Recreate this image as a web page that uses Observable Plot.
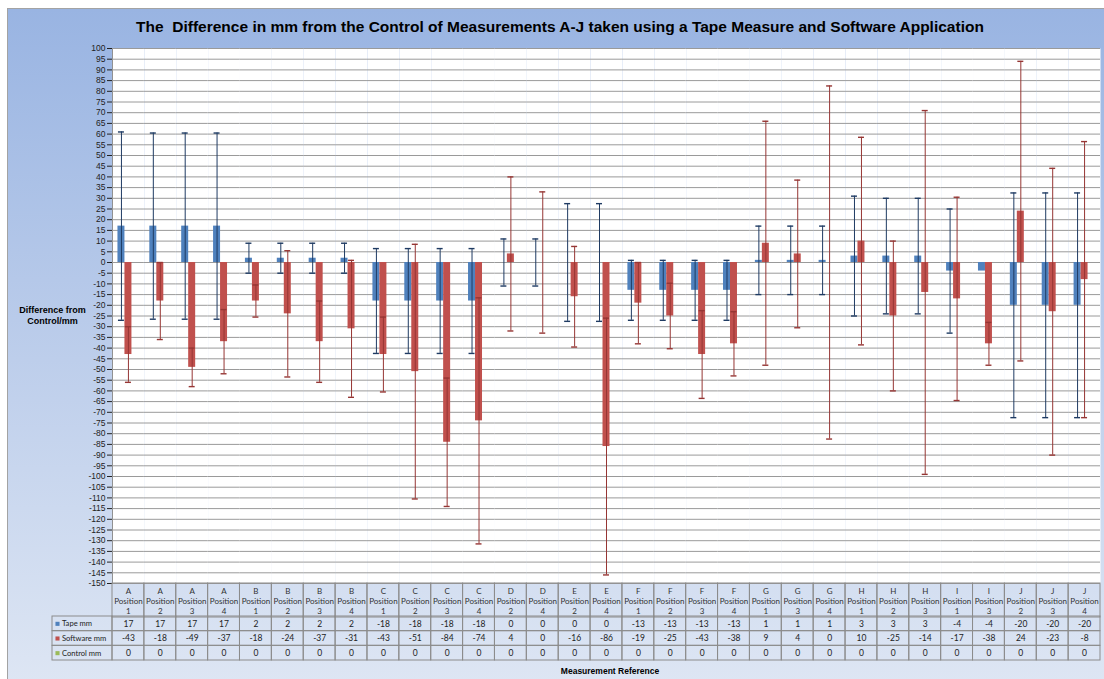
<!DOCTYPE html>
<html>
<head>
<meta charset="utf-8">
<script src="https://cdn.jsdelivr.net/npm/d3@7"></script>
<script src="https://cdn.jsdelivr.net/npm/@observablehq/plot@0.6"></script>
<style>
  html, body { margin: 0; padding: 0; background: #fff; }
  #page { position: relative; width: 1104px; height: 679px; overflow: hidden; background: #fff; font-family: "Liberation Sans", Arial, sans-serif; }
  #box { position: absolute; left: 7px; top: 8px; width: 1110px; height: 690px; box-sizing: border-box;
         border-left: 1px solid #a3a3a3; border-top: 1px solid #a3a3a3;
         background: linear-gradient(to bottom, #99b4e2 0%, #b9cbea 45%, #dfe7f4 100%); }
  .abs { position: absolute; }
  .abs svg { display: block; }
  #title { left: 0; width: 1120px; top: 18px; text-align: center; font-weight: bold; font-size: 15.5px; line-height: 18px; color: #000; white-space: pre; }
  #ylab { left: 10px; width: 85px; top: 305px; text-align: center; font-weight: bold; font-size: 9px; line-height: 11px; color: #000; }
  #xlab { left: 510px; width: 200px; top: 666px; text-align: center; font-weight: bold; font-size: 8.5px; line-height: 11px; color: #000; }
  [aria-label="y-axis tick"] { stroke: #8a8a8a; }
</style>
</head>
<body>
<div id="page">
  <div id="box"></div>
  <div id="title" class="abs">The  Difference in mm from the Control of Measurements A-J taken using a Tape Measure and Software Application</div>
  <div id="ylab" class="abs">Difference from<br>Control/mm</div>
  <div id="main" class="abs" style="left:0;top:40px"></div>
  <div id="head" class="abs" style="left:0;top:583px"></div>
  <div id="vals" class="abs" style="left:0;top:616px"></div>
  <div id="legend" class="abs" style="left:52px;top:616px"></div>
  <div id="xlab" class="abs">Measurement Reference</div>
</div>
<script>
// ---- data ----
const groups    = ["A","A","A","A","B","B","B","B","C","C","C","C","D","D","E","E","F","F","F","F","G","G","G","H","H","H","I","I","J","J","J"];
const positions = [1,2,3,4,1,2,3,4,1,2,3,4,2,4,2,4,1,2,3,4,1,3,4,1,2,3,1,3,2,3,4];
const tapeMm     = [17,17,17,17,2,2,2,2,-18,-18,-18,-18,0,0,0,0,-13,-13,-13,-13,1,1,1,3,3,3,-4,-4,-20,-20,-20];
const softwareMm = [-43,-18,-49,-37,-18,-24,-37,-31,-43,-51,-84,-74,4,0,-16,-86,-19,-25,-43,-38,9,4,0,10,-25,-14,-17,-38,24,-23,-8];
const controlMm  = [0,0,0,0,0,0,0,0,0,0,0,0,0,0,0,0,0,0,0,0,0,0,0,0,0,0,0,0,0,0,0];
// error bar half-lengths
const tapeErr     = [44,43.5,43.5,43.5,7,7,7,7,24.5,24.5,24.5,24.5,11,11,27.5,27.5,14,14,14,14,16,16,16,28,27,27,29,0,52.5,52.5,52.5];
const softwareErr = [13,18,9,15,7.5,29.5,19,32,17.5,59.5,30,57.5,36,33,23.5,60,19,15.3,20.5,15,57,34.5,82.5,48.5,35,85,47.5,10,70,67,64.5];
const controlErr  = [0,0,0,0,0,0,0,0,0,0,0,0,0,0,0,0,0,0,0,0,0,0,0,0,0,0,0,0,0,0,0];
const seriesNames  = ["Tape mm","Software mm","Control mm"];
const seriesColors = ["#4f81bd","#c0504d","#9bbb59"];
const errorColors  = ["#1f3b63","#963634","#76923c"];
const yTicks = [-150,-145,-140,-135,-130,-125,-120,-115,-110,-105,-100,-95,-90,-85,-80,-75,-70,-65,-60,-55,-50,-45,-40,-35,-30,-25,-20,-15,-10,-5,0,5,10,15,20,25,30,35,40,45,50,55,60,65,70,75,80,85,90,95,100];

// ---- derived tables ----
const cats = groups.map((g, i) => `${g} ${positions[i]}`);
const seriesValues = [tapeMm, softwareMm, controlMm];
const seriesErrs = [tapeErr, softwareErr, controlErr];
const rows = cats.flatMap((c, i) => seriesNames.map((s, k) => ({cat: c, series: s, k, value: seriesValues[k][i], err: seriesErrs[k][i]})));

const errMarks = [];
[0, 1, 2].forEach(k => {
  const er = rows.filter(d => d.k === k && d.err > 0);
  errMarks.push(
    Plot.ruleX(er, {fx: "cat", x: "series", y1: d => d.value - d.err, y2: d => d.value + d.err, stroke: errorColors[k], strokeWidth: 1}),
    Plot.tickY(er, {fx: "cat", x: "series", y: d => d.value + d.err, stroke: errorColors[k], strokeWidth: 1.4, insetLeft: 0.5, insetRight: 0.5}),
    Plot.tickY(er, {fx: "cat", x: "series", y: d => d.value - d.err, stroke: errorColors[k], strokeWidth: 1.4, insetLeft: 0.5, insetRight: 0.5})
  );
});

const main = Plot.plot({
  width: 1104, height: 545,
  marginLeft: 112, marginRight: 4, marginTop: 8, marginBottom: 2,
  style: {background: "transparent", fontFamily: "Liberation Sans, Arial, sans-serif", fontSize: "8.5px", color: "#222", overflow: "visible"},
  fx: {domain: cats, padding: 0, round: false, axis: null, label: null},
  x: {domain: seriesNames, paddingInner: 0, paddingOuter: 0.78, round: false, axis: null},
  y: {domain: [-150, 100], ticks: yTicks, tickFormat: d => String(d), tickSize: 5, tickPadding: 2, label: null, line: true},
  color: {domain: seriesNames, range: seriesColors},
  marks: [
    Plot.frame({fill: "white", stroke: null}),
    Plot.ruleY(yTicks, {stroke: "#9a9a9a", strokeWidth: 1}),
    Plot.barY(rows, {fx: "cat", x: "series", y: "value", fill: "series"}),
    ...errMarks
  ]
});
document.getElementById("main").appendChild(main);

const tableFont = "Lato, 'Liberation Sans', sans-serif";
const head = Plot.plot({
  width: 1104, height: 34,
  marginLeft: 112, marginRight: 4, marginTop: 0, marginBottom: 0,
  style: {background: "transparent", fontFamily: tableFont, fontSize: "8px", color: "#333", overflow: "visible"},
  x: {domain: cats, padding: 0, round: false, axis: null},
  marks: [
    Plot.cell(cats, {x: d => d, stroke: "#8c8c8c", fill: "none"}),
    Plot.text(cats, {x: d => d, text: (d, i) => `${groups[i]}\nPosition\n${positions[i]}`, frameAnchor: "middle", dy: 0.7, lineHeight: 1.25, fill: "#333"})
  ]
});
document.getElementById("head").appendChild(head);

const table = cats.flatMap((c, i) => seriesNames.map((s, k) => ({cat: c, row: s, value: seriesValues[k][i]})));
const vals = Plot.plot({
  width: 1104, height: 44,
  marginLeft: 112, marginRight: 4, marginTop: 0, marginBottom: 0,
  style: {background: "transparent", fontFamily: tableFont, fontSize: "8.5px", color: "#222", overflow: "visible"},
  x: {domain: cats, padding: 0, round: false, axis: null},
  y: {domain: seriesNames, padding: 0, round: false, axis: null},
  marks: [
    Plot.cell(table, {x: "cat", y: "row", stroke: "#8c8c8c", fill: "none"}),
    Plot.text(table, {x: "cat", y: "row", text: d => String(d.value), fill: "#222"})
  ]
});
document.getElementById("vals").appendChild(vals);

const legend = Plot.plot({
  width: 60, height: 44,
  marginLeft: 0, marginRight: 0, marginTop: 0, marginBottom: 0,
  style: {background: "transparent", fontFamily: tableFont, fontSize: "7.6px", color: "#222", overflow: "visible"},
  y: {domain: seriesNames, padding: 0, round: false, axis: null},
  color: {domain: seriesNames, range: seriesColors},
  marks: [
    Plot.cell(seriesNames, {y: d => d, stroke: "#8c8c8c", fill: "none"}),
    Plot.dot(seriesNames, {y: d => d, frameAnchor: "left", dx: 5, symbol: "square", r: 2.3, fill: d => d, stroke: null}),
    Plot.text(seriesNames, {y: d => d, frameAnchor: "left", dx: 9.5, textAnchor: "start", text: d => d, fill: "#222"})
  ]
});
document.getElementById("legend").appendChild(legend);
</script>
</body>
</html>
